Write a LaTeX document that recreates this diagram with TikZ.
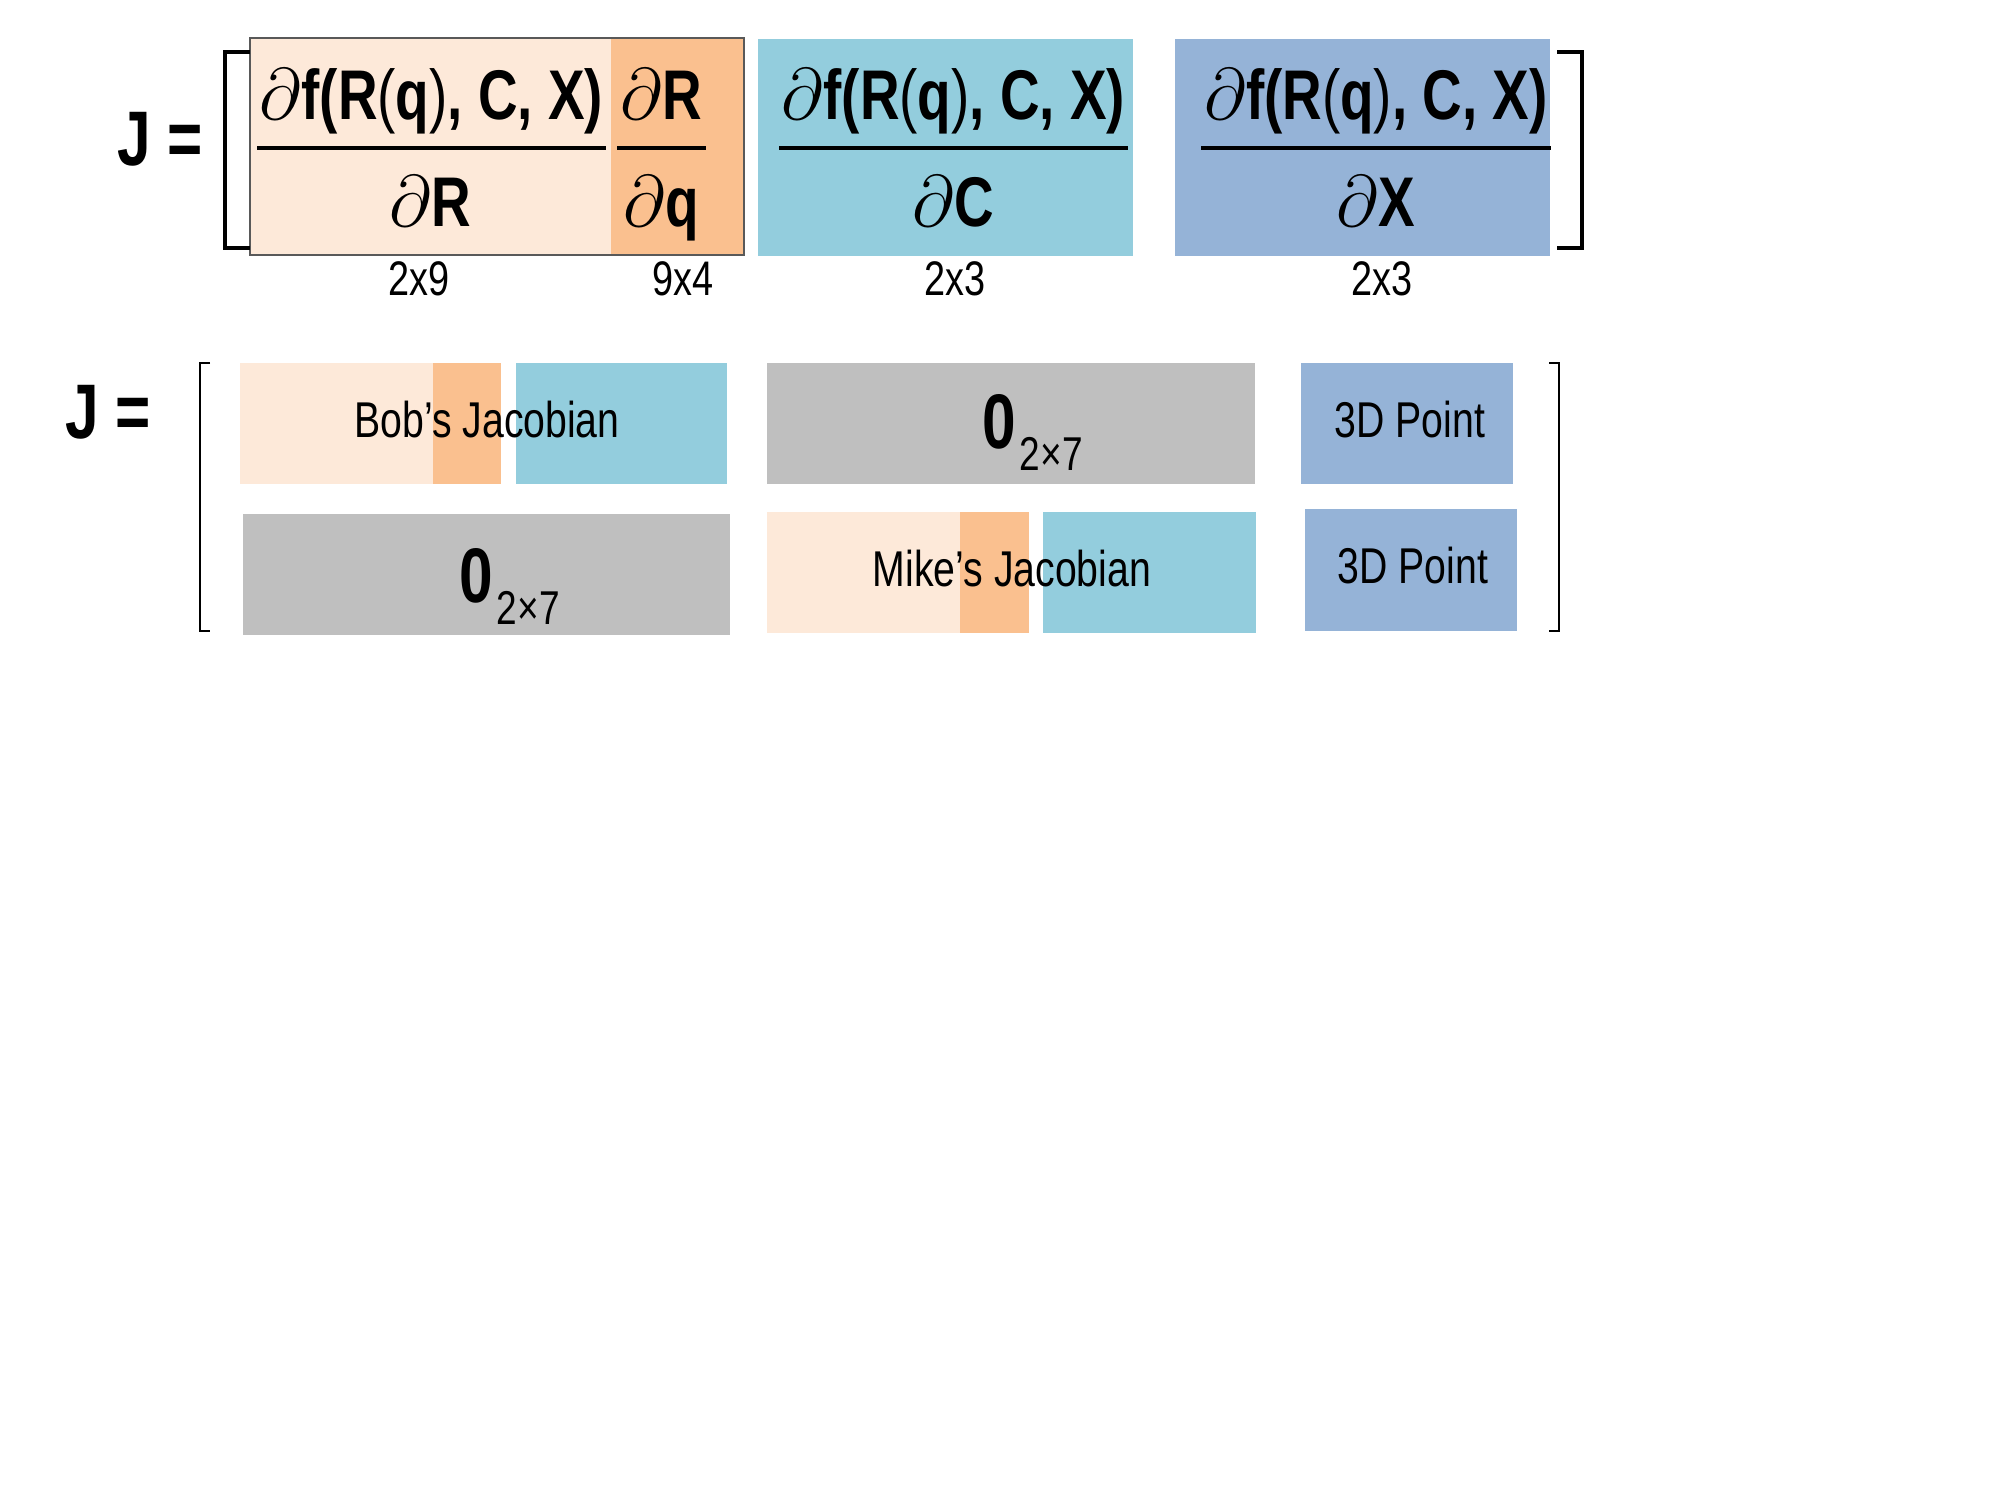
\documentclass[tikz,border=0pt]{standalone}
\usepackage{fontspec}
\setmainfont{Liberation Sans}[FakeStretch=0.78]
\definecolor{P1}{RGB}{253,233,217}
\definecolor{O1}{RGB}{250,192,143}
\definecolor{C1}{RGB}{147,205,221}
\definecolor{B1}{RGB}{149,179,215}
\definecolor{G1}{RGB}{191,191,191}
\newcommand{\dfnum}{$\partial$\textbf{f(R\textmd{(}q\textmd{)}, C, X)}}
\newcommand{\zerob}{{\fontsize{22}{26}\selectfont\bfseries 0}\kern1pt\raisebox{-6.5pt}{\fontsize{13.5}{15}\selectfont 2×7}}

\begin{document}
\begin{tikzpicture}[x=0.01cm, y=-0.01cm,
    big/.style={font=\fontsize{20}{24}\selectfont, anchor=base, inner sep=0pt},
    dims/.style={font=\fontsize{13.8}{15}\selectfont, anchor=base, inner sep=0pt},
    blk/.style={font=\fontsize{14.3}{16}\selectfont, anchor=base, inner sep=0pt},
    jeq/.style={font=\fontsize{22}{26}\selectfont\bfseries, anchor=base, inner sep=0pt},
    zero/.style={anchor=base west, inner sep=0pt},
    fline/.style={line width=1.1pt}]
      \useasboundingbox (0,0) rectangle (2000,1500);
      % top row: blocks
      \fill[P1] (250,38) rectangle (611,255);
      \fill[O1] (611,38) rectangle (744,255);
      \draw[black!65, line width=0.3pt] (250,38) rectangle (744,255);
      \fill[C1] (758,39) rectangle (1133,256);
      \fill[B1] (1175,39) rectangle (1550,256);
      % top row: brackets
      \draw[line width=1.1pt] (250,52) -- (225,52) -- (225,248) -- (250,248);
      \draw[line width=1.1pt] (1557,52) -- (1582,52) -- (1582,248) -- (1557,248);
      \draw (160,166) node[jeq] (jtop) {J =};
      % fractions
      \draw (431.5,120) node[big] (numR) {\dfnum};
      \draw (430,227) node[big] (denR) {$\partial$\textbf{R}};
      \draw[fline] (257,148) -- (606,148);
      \draw (661.5,120) node[big] (numq) {$\partial$\textbf{R}};
      \draw (661.5,227) node[big] (denq) {$\partial$\textbf{q}};
      \draw[fline] (617,148) -- (706,148);
      \draw (953.5,120) node[big] (numC) {\dfnum};
      \draw (953.5,227) node[big] (denC) {$\partial$\textbf{C}};
      \draw[fline] (779,148) -- (1128,148);
      \draw (1376,120) node[big] (numX) {\dfnum};
      \draw (1376,227) node[big] (denX) {$\partial$\textbf{X}};
      \draw[fline] (1201,148) -- (1551,148);
      % sizes
      \draw (419,295) node[dims] (szR) {2x9};
      \draw (683,295) node[dims] (szq) {9x4};
      \draw (955,295) node[dims] (szC) {2x3};
      \draw (1382,295) node[dims] (szX) {2x3};
      % bottom row: blocks
      \fill[P1] (240,363) rectangle (433,484);
      \fill[O1] (433,363) rectangle (501,484);
      \fill[C1] (516,363) rectangle (727,484);
      \fill[G1] (767,363) rectangle (1255,484);
      \fill[B1] (1301,363) rectangle (1513,484);
      \fill[G1] (243,514) rectangle (730,635);
      \fill[P1] (767,512) rectangle (960,633);
      \fill[O1] (960,512) rectangle (1029,633);
      \fill[C1] (1043,512) rectangle (1256,633);
      \fill[B1] (1305,509) rectangle (1517,631);
      % bottom row: brackets
      \draw[line width=0.6pt] (210,363) -- (200,363) -- (200,631) -- (210,631);
      \draw[line width=0.6pt] (1549,363) -- (1559,363) -- (1559,631) -- (1549,631);
      \draw (108,438) node[jeq] (jbot) {J =};
      % bottom row: texts
      \draw (487,437) node[blk] (bob) {Bob’s Jacobian};
      \draw (982,448) node[zero] (zeroA) {\zerob};
      \draw (1410,437) node[blk] (ptA) {3D Point};
      \draw (459,602) node[zero] (zeroB) {\zerob};
      \draw (1012,586) node[blk] (mike) {Mike’s Jacobian};
      \draw (1413,583) node[blk] (ptB) {3D Point};
\end{tikzpicture}
\end{document}
